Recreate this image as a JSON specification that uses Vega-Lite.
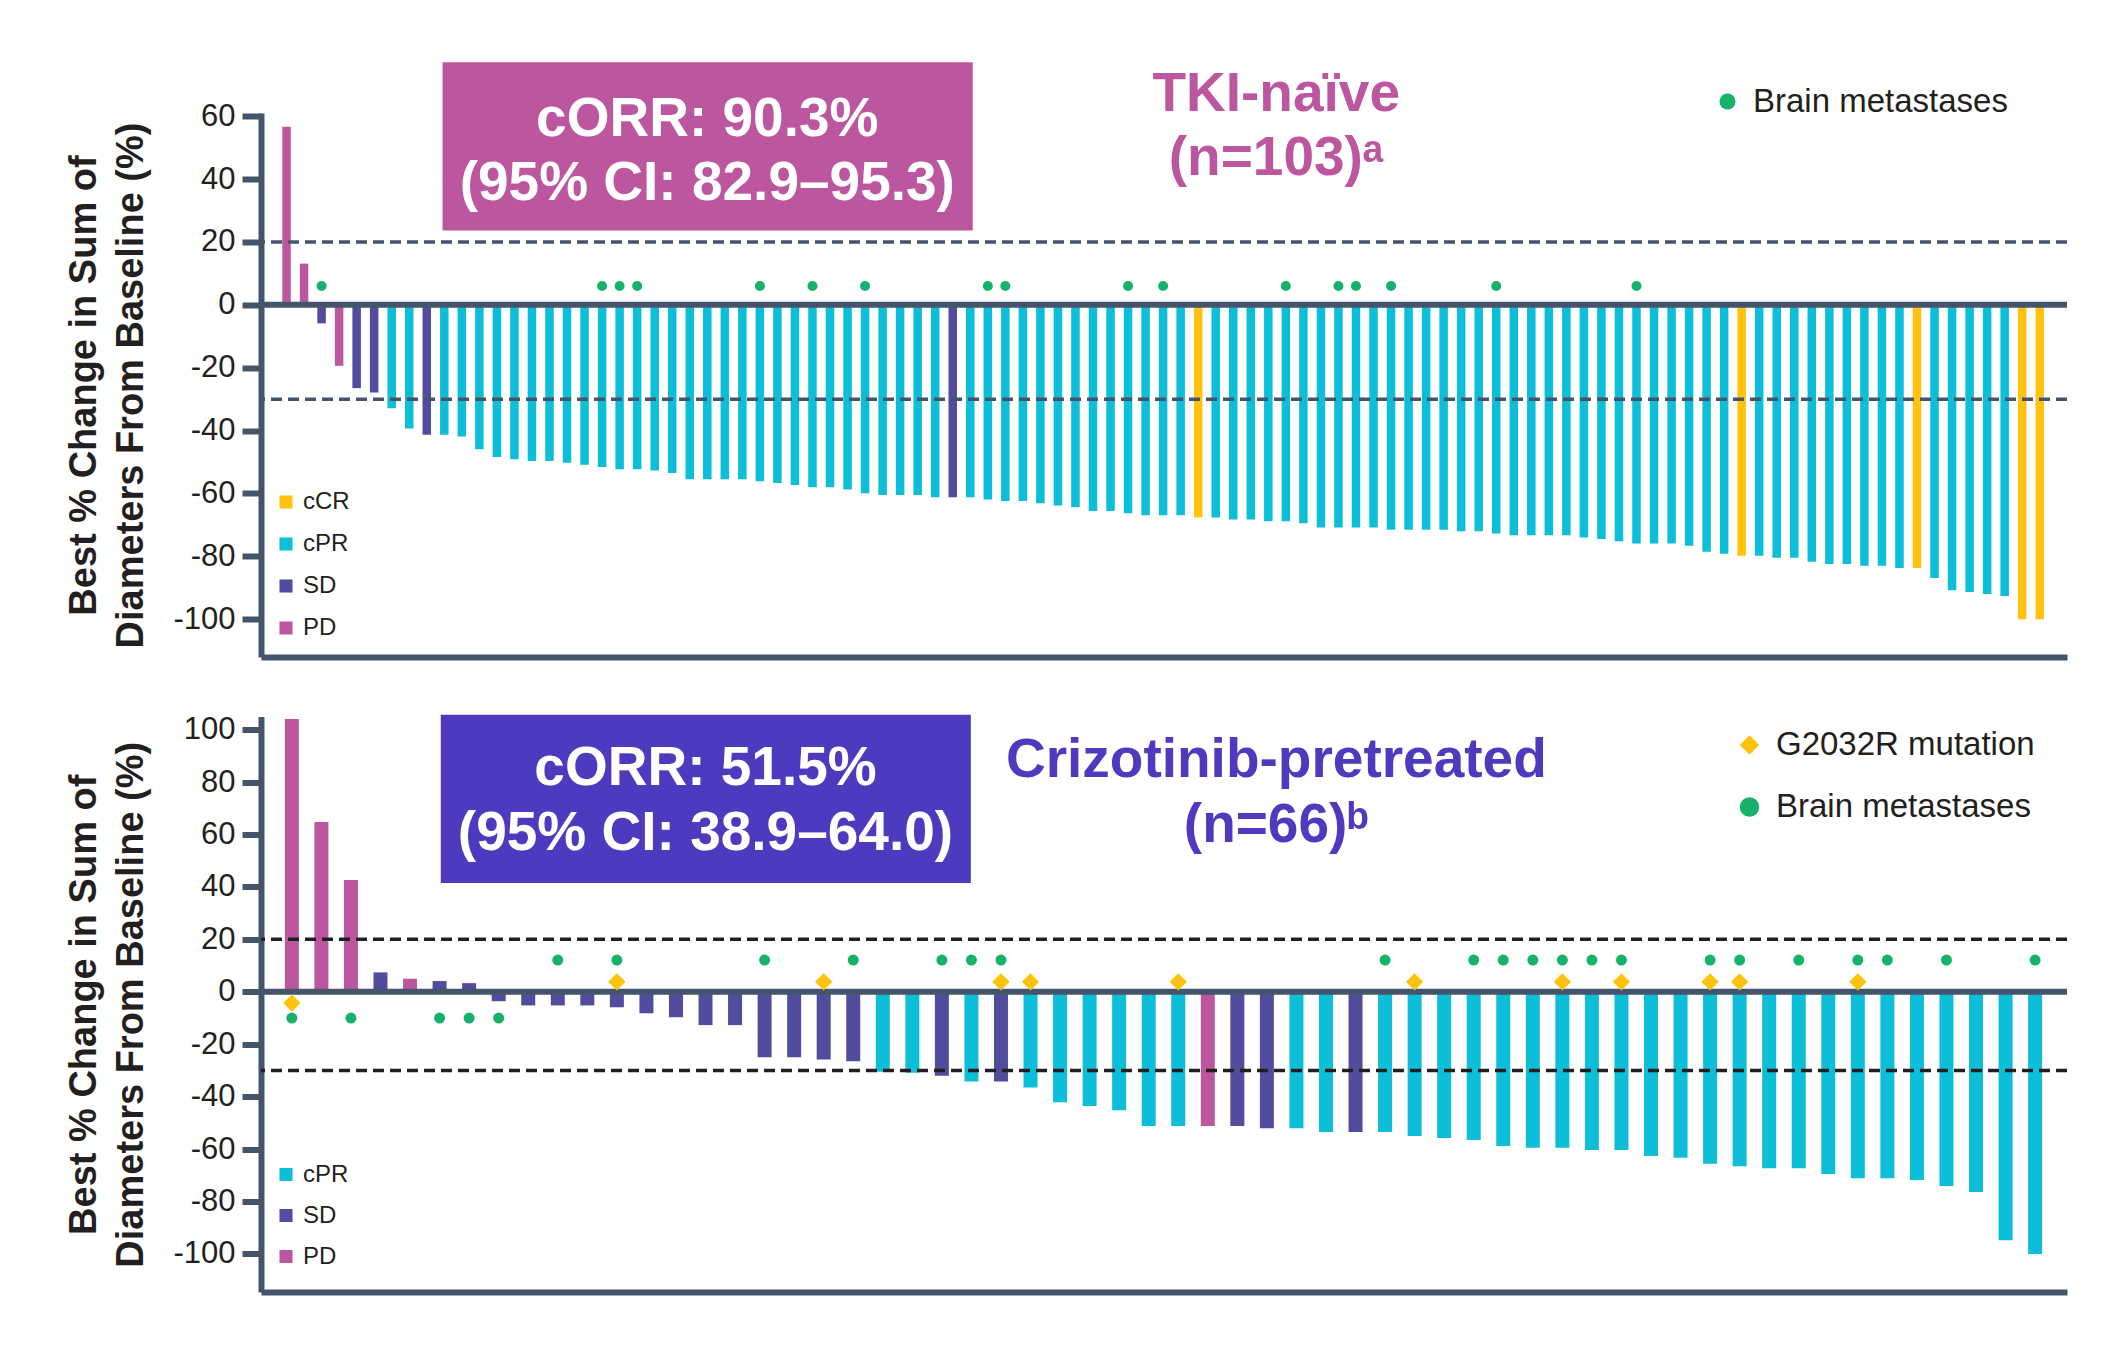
{
  "$schema": "https://vega.github.io/schema/vega-lite/v6.json",
  "background": "white",
  "padding": {"left": 65, "top": 62, "right": 20, "bottom": 20},
  "config": {
    "view": {"stroke": null},
    "font": "Liberation Sans",
    "axisY": {
      "grid": false,
      "labelFont": "Liberation Sans",
      "labelFontSize": 31,
      "labelColor": "#231F20",
      "labelPadding": 7,
      "labelExpr": "'' + datum.value",
      "tickSize": 19,
      "tickWidth": 6,
      "tickColor": "#44546A",
      "domainWidth": 6,
      "domainColor": "#44546A",
      "titleFont": "Liberation Sans",
      "titleFontSize": 38,
      "titleFontWeight": "bold",
      "titleColor": "#231F20",
      "titleLineHeight": 47,
      "titlePadding": 22
    },
    "axisX": {
      "grid": false,
      "labels": false,
      "ticks": false,
      "domainWidth": 6,
      "domainColor": "#44546A"
    },
    "legend": {
      "labelFont": "Liberation Sans",
      "labelColor": "#231F20",
      "labelLimit": 0,
      "padding": 0
    }
  },
  "datasets": {
    "naive": [
      {"i": 1, "v": 56.6, "r": "PD"}, {"i": 2, "v": 13.1, "r": "PD"}, {"i": 3, "v": -5.9, "r": "SD"},
      {"i": 4, "v": -19.4, "r": "PD"}, {"i": 5, "v": -26.5, "r": "SD"}, {"i": 6, "v": -27.9, "r": "SD"},
      {"i": 7, "v": -32.9, "r": "cPR"}, {"i": 8, "v": -39.3, "r": "cPR"}, {"i": 9, "v": -41.3, "r": "SD"},
      {"i": 10, "v": -41.3, "r": "cPR"}, {"i": 11, "v": -41.9, "r": "cPR"}, {"i": 12, "v": -45.9, "r": "cPR"},
      {"i": 13, "v": -48.4, "r": "cPR"}, {"i": 14, "v": -49.1, "r": "cPR"}, {"i": 15, "v": -49.7, "r": "cPR"},
      {"i": 16, "v": -49.7, "r": "cPR"}, {"i": 17, "v": -50.2, "r": "cPR"}, {"i": 18, "v": -50.9, "r": "cPR"},
      {"i": 19, "v": -51.6, "r": "cPR"}, {"i": 20, "v": -52.3, "r": "cPR"}, {"i": 21, "v": -52.3, "r": "cPR"},
      {"i": 22, "v": -52.7, "r": "cPR"}, {"i": 23, "v": -53.5, "r": "cPR"}, {"i": 24, "v": -55.5, "r": "cPR"},
      {"i": 25, "v": -55.5, "r": "cPR"}, {"i": 26, "v": -55.5, "r": "cPR"}, {"i": 27, "v": -55.5, "r": "cPR"},
      {"i": 28, "v": -56.1, "r": "cPR"}, {"i": 29, "v": -56.7, "r": "cPR"}, {"i": 30, "v": -57.3, "r": "cPR"},
      {"i": 31, "v": -58.0, "r": "cPR"}, {"i": 32, "v": -58.0, "r": "cPR"}, {"i": 33, "v": -58.7, "r": "cPR"},
      {"i": 34, "v": -59.9, "r": "cPR"}, {"i": 35, "v": -60.5, "r": "cPR"}, {"i": 36, "v": -60.5, "r": "cPR"},
      {"i": 37, "v": -60.5, "r": "cPR"}, {"i": 38, "v": -61.2, "r": "cPR"}, {"i": 39, "v": -61.2, "r": "SD"},
      {"i": 40, "v": -61.2, "r": "cPR"}, {"i": 41, "v": -61.9, "r": "cPR"}, {"i": 42, "v": -62.4, "r": "cPR"},
      {"i": 43, "v": -62.4, "r": "cPR"}, {"i": 44, "v": -63.1, "r": "cPR"}, {"i": 45, "v": -63.8, "r": "cPR"},
      {"i": 46, "v": -64.4, "r": "cPR"}, {"i": 47, "v": -65.6, "r": "cPR"}, {"i": 48, "v": -65.6, "r": "cPR"},
      {"i": 49, "v": -66.3, "r": "cPR"}, {"i": 50, "v": -66.9, "r": "cPR"}, {"i": 51, "v": -66.9, "r": "cPR"},
      {"i": 52, "v": -66.9, "r": "cPR"}, {"i": 53, "v": -67.6, "r": "cCR"}, {"i": 54, "v": -67.6, "r": "cPR"},
      {"i": 55, "v": -68.3, "r": "cPR"}, {"i": 56, "v": -68.3, "r": "cPR"}, {"i": 57, "v": -68.8, "r": "cPR"},
      {"i": 58, "v": -68.8, "r": "cPR"}, {"i": 59, "v": -69.5, "r": "cPR"}, {"i": 60, "v": -70.8, "r": "cPR"},
      {"i": 61, "v": -70.8, "r": "cPR"}, {"i": 62, "v": -70.8, "r": "cPR"}, {"i": 63, "v": -70.8, "r": "cPR"},
      {"i": 64, "v": -71.5, "r": "cPR"}, {"i": 65, "v": -71.5, "r": "cPR"}, {"i": 66, "v": -71.5, "r": "cPR"},
      {"i": 67, "v": -71.5, "r": "cPR"}, {"i": 68, "v": -72.0, "r": "cPR"}, {"i": 69, "v": -72.0, "r": "cPR"},
      {"i": 70, "v": -72.7, "r": "cPR"}, {"i": 71, "v": -73.3, "r": "cPR"}, {"i": 72, "v": -73.3, "r": "cPR"},
      {"i": 73, "v": -73.3, "r": "cPR"}, {"i": 74, "v": -73.3, "r": "cPR"}, {"i": 75, "v": -74.0, "r": "cPR"},
      {"i": 76, "v": -74.5, "r": "cPR"}, {"i": 77, "v": -75.2, "r": "cPR"}, {"i": 78, "v": -75.9, "r": "cPR"},
      {"i": 79, "v": -75.9, "r": "cPR"}, {"i": 80, "v": -75.9, "r": "cPR"}, {"i": 81, "v": -76.6, "r": "cPR"},
      {"i": 82, "v": -78.5, "r": "cPR"}, {"i": 83, "v": -79.2, "r": "cPR"}, {"i": 84, "v": -79.8, "r": "cCR"},
      {"i": 85, "v": -79.8, "r": "cPR"}, {"i": 86, "v": -80.4, "r": "cPR"}, {"i": 87, "v": -80.4, "r": "cPR"},
      {"i": 88, "v": -81.7, "r": "cPR"}, {"i": 89, "v": -82.4, "r": "cPR"}, {"i": 90, "v": -82.4, "r": "cPR"},
      {"i": 91, "v": -83.0, "r": "cPR"}, {"i": 92, "v": -83.0, "r": "cPR"}, {"i": 93, "v": -83.7, "r": "cPR"},
      {"i": 94, "v": -83.7, "r": "cCR"}, {"i": 95, "v": -86.9, "r": "cPR"}, {"i": 96, "v": -90.8, "r": "cPR"},
      {"i": 97, "v": -91.3, "r": "cPR"}, {"i": 98, "v": -92.0, "r": "cPR"}, {"i": 99, "v": -92.6, "r": "cPR"},
      {"i": 100, "v": -100, "r": "cCR"}, {"i": 101, "v": -100, "r": "cCR"}
    ],
    "naiveMarks": [
      {"i": 3, "m": "Brain metastases"}, {"i": 19, "m": "Brain metastases"}, {"i": 20, "m": "Brain metastases"},
      {"i": 21, "m": "Brain metastases"}, {"i": 28, "m": "Brain metastases"}, {"i": 31, "m": "Brain metastases"},
      {"i": 34, "m": "Brain metastases"}, {"i": 41, "m": "Brain metastases"}, {"i": 42, "m": "Brain metastases"},
      {"i": 49, "m": "Brain metastases"}, {"i": 51, "m": "Brain metastases"}, {"i": 58, "m": "Brain metastases"},
      {"i": 61, "m": "Brain metastases"}, {"i": 62, "m": "Brain metastases"}, {"i": 64, "m": "Brain metastases"},
      {"i": 70, "m": "Brain metastases"}, {"i": 78, "m": "Brain metastases"}
    ],
    "pre": [
      {"i": 1, "v": 104, "r": "PD"}, {"i": 2, "v": 64.8, "r": "PD"}, {"i": 3, "v": 42.6, "r": "PD"},
      {"i": 4, "v": 7.4, "r": "SD"}, {"i": 5, "v": 5.0, "r": "PD"}, {"i": 6, "v": 4.1, "r": "SD"},
      {"i": 7, "v": 3.3, "r": "SD"}, {"i": 8, "v": -3.6, "r": "SD"}, {"i": 9, "v": -5.2, "r": "SD"},
      {"i": 10, "v": -5.2, "r": "SD"}, {"i": 11, "v": -5.2, "r": "SD"}, {"i": 12, "v": -5.9, "r": "SD"},
      {"i": 13, "v": -8.2, "r": "SD"}, {"i": 14, "v": -9.7, "r": "SD"}, {"i": 15, "v": -12.7, "r": "SD"},
      {"i": 16, "v": -12.7, "r": "SD"}, {"i": 17, "v": -25.0, "r": "SD"}, {"i": 18, "v": -25.0, "r": "SD"},
      {"i": 19, "v": -25.8, "r": "SD"}, {"i": 20, "v": -26.5, "r": "SD"}, {"i": 21, "v": -30.5, "r": "cPR"},
      {"i": 22, "v": -30.9, "r": "cPR"}, {"i": 23, "v": -32.0, "r": "SD"}, {"i": 24, "v": -34.2, "r": "cPR"},
      {"i": 25, "v": -34.2, "r": "SD"}, {"i": 26, "v": -36.5, "r": "cPR"}, {"i": 27, "v": -42.1, "r": "cPR"},
      {"i": 28, "v": -43.6, "r": "cPR"}, {"i": 29, "v": -45.2, "r": "cPR"}, {"i": 30, "v": -51.2, "r": "cPR"},
      {"i": 31, "v": -51.2, "r": "cPR"}, {"i": 32, "v": -51.2, "r": "PD"}, {"i": 33, "v": -51.2, "r": "SD"},
      {"i": 34, "v": -52.0, "r": "SD"}, {"i": 35, "v": -52.0, "r": "cPR"}, {"i": 36, "v": -53.5, "r": "cPR"},
      {"i": 37, "v": -53.5, "r": "SD"}, {"i": 38, "v": -53.5, "r": "cPR"}, {"i": 39, "v": -55.0, "r": "cPR"},
      {"i": 40, "v": -55.8, "r": "cPR"}, {"i": 41, "v": -56.5, "r": "cPR"}, {"i": 42, "v": -58.8, "r": "cPR"},
      {"i": 43, "v": -59.5, "r": "cPR"}, {"i": 44, "v": -59.5, "r": "cPR"}, {"i": 45, "v": -60.3, "r": "cPR"},
      {"i": 46, "v": -60.3, "r": "cPR"}, {"i": 47, "v": -62.6, "r": "cPR"}, {"i": 48, "v": -63.3, "r": "cPR"},
      {"i": 49, "v": -65.6, "r": "cPR"}, {"i": 50, "v": -66.5, "r": "cPR"}, {"i": 51, "v": -67.3, "r": "cPR"},
      {"i": 52, "v": -67.3, "r": "cPR"}, {"i": 53, "v": -69.5, "r": "cPR"}, {"i": 54, "v": -71.1, "r": "cPR"},
      {"i": 55, "v": -71.1, "r": "cPR"}, {"i": 56, "v": -71.8, "r": "cPR"}, {"i": 57, "v": -74.1, "r": "cPR"},
      {"i": 58, "v": -76.4, "r": "cPR"}, {"i": 59, "v": -94.8, "r": "cPR"}, {"i": 60, "v": -100, "r": "cPR"}
    ],
    "preMarks": [
      {"i": 10, "m": "Brain metastases", "s": "up"}, {"i": 12, "m": "Brain metastases", "s": "up"},
      {"i": 17, "m": "Brain metastases", "s": "up"}, {"i": 20, "m": "Brain metastases", "s": "up"},
      {"i": 23, "m": "Brain metastases", "s": "up"}, {"i": 24, "m": "Brain metastases", "s": "up"},
      {"i": 25, "m": "Brain metastases", "s": "up"}, {"i": 38, "m": "Brain metastases", "s": "up"},
      {"i": 41, "m": "Brain metastases", "s": "up"}, {"i": 42, "m": "Brain metastases", "s": "up"},
      {"i": 43, "m": "Brain metastases", "s": "up"}, {"i": 44, "m": "Brain metastases", "s": "up"},
      {"i": 45, "m": "Brain metastases", "s": "up"}, {"i": 46, "m": "Brain metastases", "s": "up"},
      {"i": 49, "m": "Brain metastases", "s": "up"}, {"i": 50, "m": "Brain metastases", "s": "up"},
      {"i": 52, "m": "Brain metastases", "s": "up"}, {"i": 54, "m": "Brain metastases", "s": "up"},
      {"i": 55, "m": "Brain metastases", "s": "up"}, {"i": 57, "m": "Brain metastases", "s": "up"},
      {"i": 60, "m": "Brain metastases", "s": "up"},
      {"i": 1, "m": "Brain metastases", "s": "down"}, {"i": 3, "m": "Brain metastases", "s": "down"},
      {"i": 6, "m": "Brain metastases", "s": "down"}, {"i": 7, "m": "Brain metastases", "s": "down"},
      {"i": 8, "m": "Brain metastases", "s": "down"},
      {"i": 12, "m": "G2032R mutation", "s": "up"}, {"i": 19, "m": "G2032R mutation", "s": "up"},
      {"i": 25, "m": "G2032R mutation", "s": "up"}, {"i": 26, "m": "G2032R mutation", "s": "up"},
      {"i": 31, "m": "G2032R mutation", "s": "up"}, {"i": 39, "m": "G2032R mutation", "s": "up"},
      {"i": 44, "m": "G2032R mutation", "s": "up"}, {"i": 46, "m": "G2032R mutation", "s": "up"},
      {"i": 49, "m": "G2032R mutation", "s": "up"}, {"i": 50, "m": "G2032R mutation", "s": "up"},
      {"i": 54, "m": "G2032R mutation", "s": "up"},
      {"i": 1, "m": "G2032R mutation", "s": "down"}
    ]
  },
  "spacing": 59.5,
  "bounds": "flush",
  "resolve": {
    "scale": {"color": "independent", "fill": "independent", "shape": "independent"},
    "legend": {"color": "independent", "fill": "independent", "shape": "independent"}
  },
  "vconcat": [
    {
      "width": 1806,
      "height": 544,
      "layer": [
        {
          "data": {"values": [{}]},
          "mark": {"type": "rect", "color": "#BC579F"},
          "encoding": {
            "x": {"datum": 9.9, "type": "quantitative", "scale": {"domain": [-0.17, 102.27], "nice": false, "zero": false}},
            "x2": {"datum": 40.14},
            "y": {"datum": 77.1, "type": "quantitative", "scale": {"domain": [-112, 61], "nice": false}},
            "y2": {"datum": 23.6}
          }
        },
        {
          "data": {"name": "naive"},
          "mark": {"type": "bar", "size": 8.5},
          "encoding": {
            "x": {"field": "i", "type": "quantitative", "scale": {"domain": [-0.17, 102.27], "nice": false, "zero": false}, "axis": {"title": null}},
            "y": {
              "field": "v", "type": "quantitative",
              "scale": {"domain": [-112, 61], "nice": false},
              "axis": {"title": ["Best % Change in Sum of", "Diameters From Baseline (%)"], "values": [60, 40, 20, 0, -20, -40, -60, -80, -100]}
            },
            "color": {
              "field": "r", "type": "nominal",
              "scale": {"domain": ["cCR", "cPR", "SD", "PD"], "range": ["#FFC20E", "#0DBED9", "#514C9E", "#BC579F"]},
              "legend": {"title": null, "orient": "none", "legendX": 13, "legendY": 377, "symbolType": "square", "symbolSize": 170, "symbolStrokeWidth": 0, "labelFontSize": 24, "labelOffset": 5, "rowPadding": 18}
            }
          }
        },
        {
          "data": {"values": [{}]},
          "mark": {"type": "rule", "color": "#44546A", "strokeWidth": 6},
          "encoding": {"y": {"datum": 0, "type": "quantitative"}}
        },
        {
          "data": {"values": [{}]},
          "mark": {"type": "rule", "color": "#44546A", "strokeWidth": 3.5, "strokeDash": [11, 6]},
          "encoding": {"y": {"datum": 20, "type": "quantitative"}}
        },
        {
          "data": {"values": [{}]},
          "mark": {"type": "rule", "color": "#44546A", "strokeWidth": 3.5, "strokeDash": [11, 6]},
          "encoding": {"y": {"datum": -30, "type": "quantitative"}}
        },
        {
          "data": {"name": "naiveMarks"},
          "mark": {"type": "point", "filled": true, "size": 100, "strokeWidth": 0, "opacity": 1},
          "encoding": {
            "x": {"field": "i", "type": "quantitative", "scale": {"domain": [-0.17, 102.27], "nice": false, "zero": false}},
            "y": {"datum": 6, "type": "quantitative"},
            "fill": {
              "field": "m", "type": "nominal",
              "scale": {"domain": ["Brain metastases"], "range": ["#16B26B"]},
              "legend": {"title": null, "orient": "none", "legendX": 1450, "legendY": -28, "symbolSize": 256, "symbolStrokeWidth": 0, "labelFontSize": 33, "labelOffset": 9}
            },
            "shape": {
              "field": "m", "type": "nominal",
              "scale": {"domain": ["Brain metastases"], "range": ["circle"]},
              "legend": {"title": null, "orient": "none", "legendX": 1450, "legendY": -28, "symbolSize": 256, "symbolStrokeWidth": 0, "labelFontSize": 33, "labelOffset": 9}
            }
          }
        },
        {
          "data": {"values": [{}]},
          "mark": {"type": "text", "text": "cORR: 90.3%", "font": "Liberation Sans", "fontWeight": "bold", "fontSize": 55, "color": "white", "align": "center", "baseline": "middle"},
          "encoding": {
            "x": {"datum": 25.0, "type": "quantitative"},
            "y": {"datum": 59.1, "type": "quantitative", "scale": {"domain": [-112, 61], "nice": false}}
          }
        },
        {
          "data": {"values": [{}]},
          "mark": {"type": "text", "text": "(95% CI: 82.9–95.3)", "font": "Liberation Sans", "fontWeight": "bold", "fontSize": 55, "color": "white", "align": "center", "baseline": "middle"},
          "encoding": {
            "x": {"datum": 25.0, "type": "quantitative"},
            "y": {"datum": 38.7, "type": "quantitative"}
          }
        },
        {
          "data": {"values": [{}]},
          "mark": {"type": "text", "text": "TKI-naïve", "font": "Liberation Sans", "fontWeight": "bold", "fontSize": 55, "color": "#BC579F", "align": "center", "baseline": "middle"},
          "encoding": {
            "x": {"datum": 57.45, "type": "quantitative"},
            "y": {"datum": 67.1, "type": "quantitative", "scale": {"domain": [-112, 61], "nice": false}}
          }
        },
        {
          "data": {"values": [{}]},
          "mark": {"type": "text", "text": "(n=103)ᵃ", "font": "Liberation Sans", "fontWeight": "bold", "fontSize": 55, "color": "#BC579F", "align": "center", "baseline": "middle"},
          "encoding": {
            "x": {"datum": 57.45, "type": "quantitative"},
            "y": {"datum": 46.7, "type": "quantitative"}
          }
        }
      ]
    },
    {
      "width": 1806,
      "height": 575.5,
      "layer": [
        {
          "data": {"values": [{}]},
          "mark": {"type": "rect", "color": "#4C3BBF"},
          "encoding": {
            "x": {"datum": 6.04, "type": "quantitative", "scale": {"domain": [0.125, 60.91], "nice": false, "zero": false}},
            "x2": {"datum": 23.98},
            "y": {"datum": 105.7, "type": "quantitative", "scale": {"domain": [-114.5, 105], "nice": false}},
            "y2": {"datum": 41.5}
          }
        },
        {
          "data": {"name": "pre"},
          "mark": {"type": "bar", "size": 14},
          "encoding": {
            "x": {"field": "i", "type": "quantitative", "scale": {"domain": [0.125, 60.91], "nice": false, "zero": false}, "axis": {"title": null}},
            "y": {
              "field": "v", "type": "quantitative",
              "scale": {"domain": [-114.5, 105], "nice": false},
              "axis": {"title": ["Best % Change in Sum of", "Diameters From Baseline (%)"], "values": [100, 80, 60, 40, 20, 0, -20, -40, -60, -80, -100]}
            },
            "color": {
              "field": "r", "type": "nominal",
              "scale": {"domain": ["cPR", "SD", "PD"], "range": ["#0DBED9", "#514C9E", "#BC579F"]},
              "legend": {"title": null, "orient": "none", "legendX": 13, "legendY": 446, "symbolType": "square", "symbolSize": 170, "symbolStrokeWidth": 0, "labelFontSize": 24, "labelOffset": 5, "rowPadding": 17}
            }
          }
        },
        {
          "data": {"values": [{}]},
          "mark": {"type": "rule", "color": "#44546A", "strokeWidth": 6},
          "encoding": {"y": {"datum": 0, "type": "quantitative"}}
        },
        {
          "data": {"values": [{}]},
          "mark": {"type": "rule", "color": "#231F20", "strokeWidth": 3.5, "strokeDash": [11, 6]},
          "encoding": {"y": {"datum": 20, "type": "quantitative"}}
        },
        {
          "data": {"values": [{}]},
          "mark": {"type": "rule", "color": "#231F20", "strokeWidth": 3.5, "strokeDash": [11, 6]},
          "encoding": {"y": {"datum": -30, "type": "quantitative"}}
        },
        {
          "data": {"name": "preMarks"},
          "transform": [{"filter": "datum.m == 'Brain metastases' && datum.s == 'up'"}],
          "mark": {"type": "point", "filled": true, "size": 121, "strokeWidth": 0, "opacity": 1},
          "encoding": {
            "x": {"field": "i", "type": "quantitative", "scale": {"domain": [0.125, 60.91], "nice": false, "zero": false}},
            "y": {"datum": 12.1, "type": "quantitative"},
            "fill": {
              "field": "m", "type": "nominal",
              "scale": {"domain": ["G2032R mutation", "Brain metastases"], "range": ["#FFC20E", "#16B26B"]},
              "legend": {"title": null, "orient": "none", "legendX": 1472, "legendY": 12, "symbolSize": 380, "symbolStrokeWidth": 0, "labelFontSize": 33, "labelOffset": 10, "rowPadding": 28}
            },
            "shape": {
              "field": "m", "type": "nominal",
              "scale": {"domain": ["G2032R mutation", "Brain metastases"], "range": ["diamond", "circle"]},
              "legend": {"title": null, "orient": "none", "legendX": 1472, "legendY": 12, "symbolSize": 380, "symbolStrokeWidth": 0, "labelFontSize": 33, "labelOffset": 10, "rowPadding": 28}
            }
          }
        },
        {
          "data": {"name": "preMarks"},
          "transform": [{"filter": "datum.m == 'Brain metastases' && datum.s == 'down'"}],
          "mark": {"type": "point", "filled": true, "size": 121, "strokeWidth": 0, "opacity": 1},
          "encoding": {
            "x": {"field": "i", "type": "quantitative"},
            "y": {"datum": -10, "type": "quantitative"},
            "fill": {"field": "m", "type": "nominal"},
            "shape": {"field": "m", "type": "nominal"}
          }
        },
        {
          "data": {"name": "preMarks"},
          "transform": [{"filter": "datum.m == 'G2032R mutation' && datum.s == 'up'"}],
          "mark": {"type": "point", "filled": true, "size": 300, "strokeWidth": 0, "opacity": 1},
          "encoding": {
            "x": {"field": "i", "type": "quantitative"},
            "y": {"datum": 3.8, "type": "quantitative"},
            "fill": {"field": "m", "type": "nominal"},
            "shape": {"field": "m", "type": "nominal"}
          }
        },
        {
          "data": {"name": "preMarks"},
          "transform": [{"filter": "datum.m == 'G2032R mutation' && datum.s == 'down'"}],
          "mark": {"type": "point", "filled": true, "size": 300, "strokeWidth": 0, "opacity": 1},
          "encoding": {
            "x": {"field": "i", "type": "quantitative"},
            "y": {"datum": -4.3, "type": "quantitative"},
            "fill": {"field": "m", "type": "nominal"},
            "shape": {"field": "m", "type": "nominal"}
          }
        },
        {
          "data": {"values": [{}]},
          "mark": {"type": "text", "text": "cORR: 51.5%", "font": "Liberation Sans", "fontWeight": "bold", "fontSize": 55, "color": "white", "align": "center", "baseline": "middle"},
          "encoding": {
            "x": {"datum": 15.0, "type": "quantitative"},
            "y": {"datum": 85.5, "type": "quantitative"}
          }
        },
        {
          "data": {"values": [{}]},
          "mark": {"type": "text", "text": "(95% CI: 38.9–64.0)", "font": "Liberation Sans", "fontWeight": "bold", "fontSize": 55, "color": "white", "align": "center", "baseline": "middle"},
          "encoding": {
            "x": {"datum": 15.0, "type": "quantitative"},
            "y": {"datum": 60.4, "type": "quantitative"}
          }
        },
        {
          "data": {"values": [{}]},
          "mark": {"type": "text", "text": "Crizotinib-pretreated", "font": "Liberation Sans", "fontWeight": "bold", "fontSize": 55, "color": "#4C3BBF", "align": "center", "baseline": "middle"},
          "encoding": {
            "x": {"datum": 34.32, "type": "quantitative"},
            "y": {"datum": 88.5, "type": "quantitative"}
          }
        },
        {
          "data": {"values": [{}]},
          "mark": {"type": "text", "text": "(n=66)ᵇ", "font": "Liberation Sans", "fontWeight": "bold", "fontSize": 55, "color": "#4C3BBF", "align": "center", "baseline": "middle"},
          "encoding": {
            "x": {"datum": 34.32, "type": "quantitative"},
            "y": {"datum": 63.5, "type": "quantitative"}
          }
        }
      ]
    }
  ]
}
